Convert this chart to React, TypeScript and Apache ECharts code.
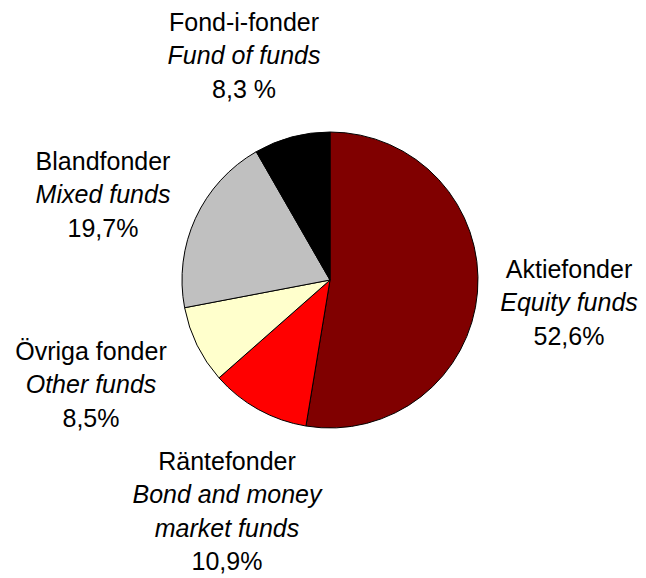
import React, { useEffect, useRef } from "react";
import * as echarts from "echarts";

const categoriesSv = ["Aktiefonder", "Räntefonder", "Övriga fonder", "Blandfonder", "Fond-i-fonder"];
const categoriesEn = ["Equity funds", "Bond and money\nmarket funds", "Other funds", "Mixed funds", "Fund of funds"];
const shares = [52.6, 10.9, 8.5, 19.7, 8.3];
const shareLabels = ["52,6%", "10,9%", "8,5%", "19,7%", "8,3 %"];
const colors = ["#800000", "#FF0000", "#FFFFCC", "#C0C0C0", "#000000"];

// label block centres (layout only)
const labelPos: [number, number][] = [
  [569, 302],
  [227, 511],
  [91, 384],
  [103, 194],
  [244, 55],
];

export default function App() {
  const ref = useRef<HTMLDivElement>(null);
  useEffect(() => {
    if (!ref.current) return;
    const chart = echarts.init(ref.current, null, { renderer: "svg" });
    const font = "'Liberation Sans', Arial, sans-serif";
    const fs = 25;
    const lh = 33.5;
    chart.setOption({
      animation: false,
      backgroundColor: "#ffffff",
      series: [
        {
          type: "pie",
          center: [330, 280],
          radius: 148,
          startAngle: 90,
          clockwise: true,
          silent: true,
          avoidLabelOverlap: false,
          itemStyle: { borderColor: "#000000", borderWidth: 1 },
          labelLine: { show: false },
          label: {
            show: true,
            position: "outside",
            align: "center",
            color: "#000",
            fontFamily: font,
            fontSize: fs,
            lineHeight: lh,
            formatter: (p: any) => {
              const i = p.dataIndex;
              const en = categoriesEn[i]
                .split("\n")
                .map((s) => `{it|${s}}`)
                .join("\n");
              return `{n|${categoriesSv[i]}}\n${en}\n{n|${shareLabels[i]}}`;
            },
            rich: {
              n: { fontFamily: font, fontSize: fs, lineHeight: lh, color: "#000", align: "center" },
              it: { fontFamily: font, fontSize: fs, lineHeight: lh, color: "#000", fontStyle: "italic", align: "center" },
            },
          },
          labelLayout: (params: any) => ({
            x: labelPos[params.dataIndex][0],
            y: labelPos[params.dataIndex][1],
            align: "center",
            verticalAlign: "middle",
            hideOverlap: false,
            moveOverlap: undefined,
          }),
          data: categoriesSv.map((name, i) => ({
            name,
            value: shares[i],
            itemStyle: { color: colors[i] },
          })),
        },
      ],
    });
    return () => chart.dispose();
  }, []);
  return (
    <div
      ref={ref}
      style={{ position: "fixed", left: 0, top: 0, width: 646, height: 578 }}
    />
  );
}
